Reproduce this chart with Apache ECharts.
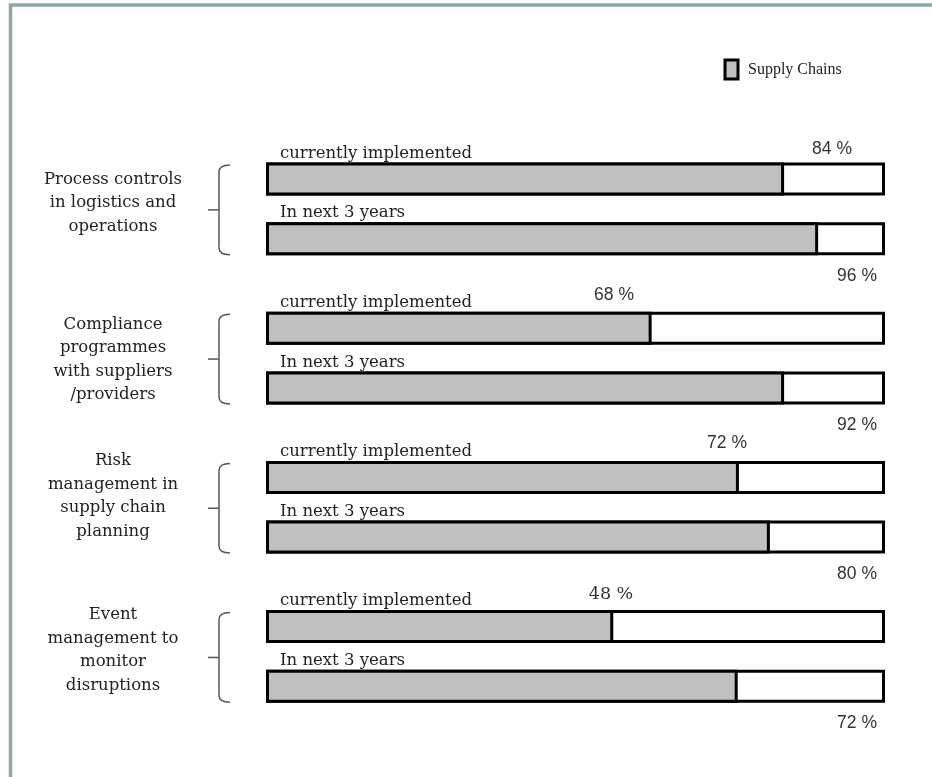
<!DOCTYPE html>
<html>
<head>
<meta charset="utf-8">
<script src="https://cdn.jsdelivr.net/npm/echarts@6/dist/echarts.min.js"></script>
<style>
  html, body { margin: 0; padding: 0; background: #ffffff; }
  #chart { width: 932px; height: 777px; }
</style>
</head>
<body>
<div id="chart"></div>
<script>
// ---- data ----
const groupNames = [
  'Process controls\nin logistics and\noperations',
  'Compliance\nprogrammes\nwith suppliers\n/providers',
  'Risk\nmanagement in\nsupply chain\nplanning',
  'Event\nmanagement to\nmonitor\ndisruptions'
];
const rowNames = ['currently implemented', 'In next 3 years'];
// bar fill lengths as drawn (percent of full bar)
const fillCurrent = [83.7, 62.3, 76.4, 56.1];
const fillNext = [89.2, 83.7, 81.4, 76.2];
// printed percentage labels
const labelCurrent = [84, 68, 72, 48];
const labelNext = [96, 92, 80, 72];
const fullValue = 100;
const seriesName = 'Supply Chains';

// ---- layout (positions/styles, not data) ----
const SLOTS_PER_GROUP = 5;
const NEXT_OFFSET = 2;
const slotCount = groupNames.length * SLOTS_PER_GROUP;
const slots = Array.from({length: slotCount}, (_, i) => 's' + i);
const curLabelX = [832, 614, 727, 611];
const curLabelDy = [-30, -33, -34, -32];
const groupDy = [-6, 1.5, -11, -6];
const serif = '"DejaVu Serif", serif';
const sans = '"Liberation Sans", Arial, sans-serif';

const bgData = slots.map(() => '-');
const fillData = slots.map(() => '-');
groupNames.forEach((g, i) => {
  const c = i * SLOTS_PER_GROUP, n = c + NEXT_OFFSET;
  bgData[c] = {value: fullValue, rowName: rowNames[0]};
  bgData[n] = {value: fullValue, rowName: rowNames[1]};
  fillData[c] = fillCurrent[i];
  fillData[n] = fillNext[i];
});

const chart = echarts.init(document.getElementById('chart'), null, {renderer: 'canvas'});
chart.setOption({
  animation: false,
  backgroundColor: '#ffffff',
  grid: {left: 266, right: 47, top: 164.1, bottom: 16.1},
  xAxis: {type: 'value', min: 0, max: fullValue, show: false},
  yAxis: {type: 'category', data: slots, inverse: true, show: false},
  legend: {
    data: [seriesName],
    left: 723.5, top: 58.5, padding: 0,
    itemWidth: 13, itemHeight: 19,
    icon: 'rect',
    itemStyle: {borderColor: '#000', borderWidth: 3},
    textStyle: {fontFamily: '"Liberation Serif", serif', fontSize: 16, color: '#222', padding: [0, 0, 0, 5]},
    selectedMode: false
  },
  series: [
    {
      type: 'bar', name: 'full', barWidth: 33, silent: true,
      itemStyle: {color: '#ffffff', borderColor: '#000', borderWidth: 3},
      label: {
        show: true, position: [14, -9], align: 'left', verticalAlign: 'middle',
        fontFamily: serif, fontSize: 16.5, color: '#222',
        formatter: p => p.data.rowName
      },
      data: bgData
    },
    {
      type: 'bar', name: seriesName, barWidth: 33, barGap: '-100%', silent: true,
      itemStyle: {color: '#c0c0c0', borderColor: '#000', borderWidth: 3},
      data: fillData
    }
  ]
});

// ---- annotations placed from the axis coordinates ----
const yOf = slot => chart.convertToPixel({yAxisIndex: 0}, slots[slot]);
const graphics = [];
graphics.push({
  type: 'rect', shape: {x: 10.5, y: 5, width: 1000, height: 1000},
  style: {fill: 'none', stroke: '#8fa8a4', lineWidth: 3.5}, z: 100
});
const bStyle = {fill: 'none', stroke: '#555', lineWidth: 1.5};
groupNames.forEach((g, i) => {
  const cC = yOf(i * SLOTS_PER_GROUP);
  const cN = yOf(i * SLOTS_PER_GROUP + NEXT_OFFSET);
  const top = cC - 14, bot = cN + 16, mid = (top + bot) / 2;
  graphics.push({type: 'bezierCurve', shape: {x1: 230, y1: top, x2: 219, y2: top + 7, cpx1: 219, cpy1: top}, style: bStyle});
  graphics.push({type: 'polyline', shape: {points: [[219, top + 7], [219, bot - 7]]}, style: bStyle});
  graphics.push({type: 'bezierCurve', shape: {x1: 219, y1: bot - 7, x2: 230, y2: bot, cpx1: 219, cpy1: bot}, style: bStyle});
  graphics.push({type: 'polyline', shape: {points: [[208, mid], [219, mid]]}, style: bStyle});
  graphics.push({
    type: 'text', x: 113, y: (cC + cN) / 2 + groupDy[i],
    style: {text: g, font: '16.5px ' + serif, fill: '#222', align: 'center', verticalAlign: 'middle', lineHeight: 23.5}
  });
  graphics.push({
    type: 'text', x: curLabelX[i], y: cC + curLabelDy[i],
    style: {text: labelCurrent[i] + ' %', font: '17.5px ' + (i === 3 ? serif : sans), fill: '#333', align: 'center', verticalAlign: 'middle'}
  });
  graphics.push({
    type: 'text', x: 877, y: cN + 37,
    style: {text: labelNext[i] + ' %', font: '17.5px ' + sans, fill: '#333', align: 'right', verticalAlign: 'middle'}
  });
});
chart.setOption({graphic: graphics});
</script>
</body>
</html>
